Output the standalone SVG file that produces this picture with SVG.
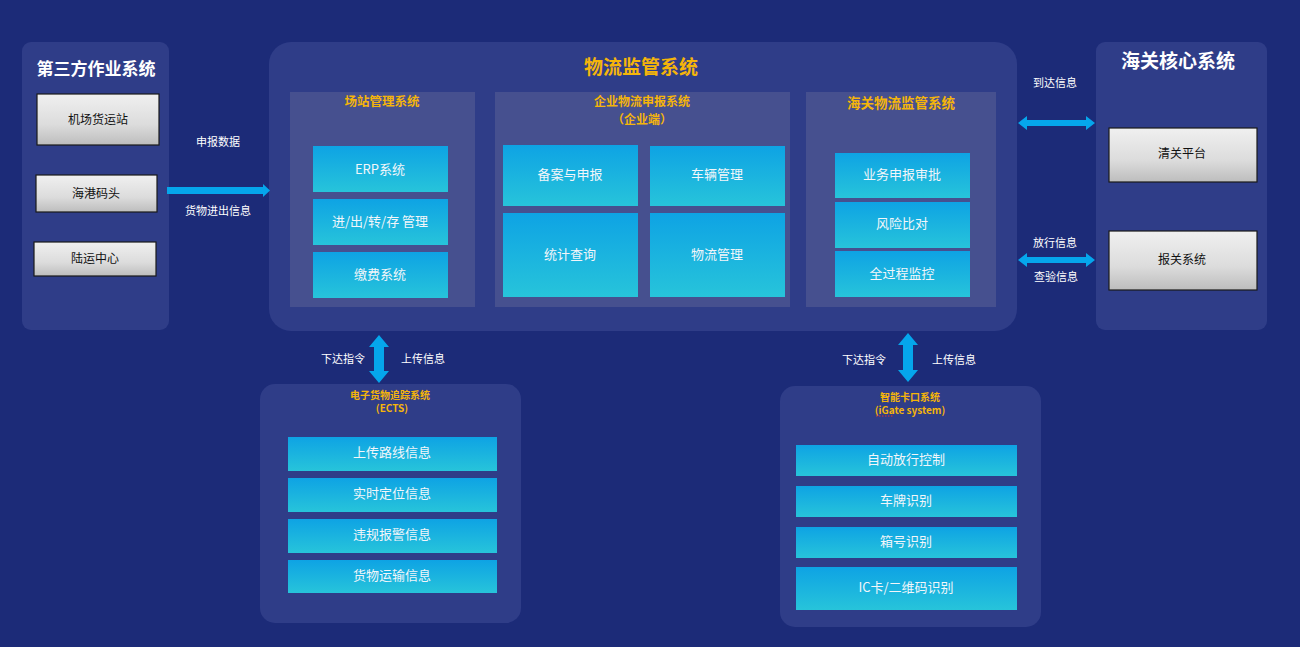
<svg xmlns="http://www.w3.org/2000/svg" width="1300" height="647" viewBox="0 0 1300 647">
<defs>
<linearGradient id="blue" x1="0" y1="0" x2="0" y2="1">
<stop offset="0" stop-color="#0ea3e4"/>
<stop offset="1" stop-color="#27c4da"/>
</linearGradient>
<linearGradient id="gray" x1="0" y1="0" x2="0" y2="1">
<stop offset="0" stop-color="#f0f0f0"/>
<stop offset="0.6" stop-color="#dcdcdc"/>
<stop offset="1" stop-color="#bdbdbd"/>
</linearGradient>
</defs>
<style>
text{font-family:"Microsoft YaHei","Noto Sans CJK SC","Noto Sans",sans-serif;text-anchor:middle;dominant-baseline:central}
.panel{fill:#2f3d88}
.sub{fill:#46508f}
.bx{fill:url(#blue)}
.gb{fill:url(#gray);stroke:#1a1a1a;stroke-width:1.2}
.bt{fill:#f2f6fa;font-size:13px}
.gt{fill:#111;font-size:12px}
.wt{fill:#ffffff;font-weight:bold}
.ot{fill:#f5b50a;font-weight:bold}
.lt{fill:#ffffff;font-size:11px}
.arr{fill:#05a6ec}
</style>
<rect width="1300" height="647" fill="#1c2b78"/>

<g id="third-party">
<rect class="panel" x="22" y="42" width="147" height="288" rx="9"/>
<text class="wt" x="96" y="67" font-size="17">第三方作业系统</text>
<g id="airport"><rect class="gb" x="37" y="94" width="122" height="51"/><text class="gt" x="98" y="118">机场货运站</text></g>
<g id="seaport"><rect class="gb" x="36" y="175" width="121" height="37"/><text class="gt" x="96" y="192">海港码头</text></g>
<g id="land"><rect class="gb" x="34" y="242" width="122" height="34"/><text class="gt" x="95" y="257">陆运中心</text></g>
</g>

<g id="logistics">
<rect class="panel" x="269" y="42" width="748" height="289" rx="22"/>
<text class="ot" x="641" y="65" font-size="19">物流监管系统</text>
<g id="yard">
<rect class="sub" x="290" y="92" width="185" height="215"/>
<text class="ot" x="382" y="100" font-size="12.5">场站管理系统</text>
<g id="erp"><rect class="bx" x="313" y="146" width="135" height="46"/><text class="bt" x="380" y="168">ERP系统</text></g>
<g id="inout"><rect class="bx" x="313" y="199" width="135" height="46"/><text class="bt" x="380" y="220">进/出/转/存 管理</text></g>
<g id="fee"><rect class="bx" x="313" y="252" width="135" height="46"/><text class="bt" x="380" y="273">缴费系统</text></g>
</g>
<g id="enterprise">
<rect class="sub" x="495" y="92" width="295" height="215"/>
<text class="ot" x="642" y="100" font-size="12">企业物流申报系统</text>
<text class="ot" x="642" y="118" font-size="12">（企业端）</text>
<g id="record"><rect class="bx" x="503" y="145" width="135" height="61"/><text class="bt" x="570" y="173">备案与申报</text></g>
<g id="vehicle"><rect class="bx" x="650" y="146" width="135" height="60"/><text class="bt" x="717" y="173">车辆管理</text></g>
<g id="stats"><rect class="bx" x="503" y="213" width="135" height="84"/><text class="bt" x="570" y="253">统计查询</text></g>
<g id="logmgmt"><rect class="bx" x="650" y="213" width="135" height="84"/><text class="bt" x="717" y="253">物流管理</text></g>
</g>
<g id="customs-logistics">
<rect class="sub" x="806" y="92" width="190" height="215"/>
<text class="ot" x="901" y="102" font-size="13.5">海关物流监管系统</text>
<g id="approve"><rect class="bx" x="835" y="153" width="135" height="45"/><text class="bt" x="902" y="173">业务申报审批</text></g>
<g id="risk"><rect class="bx" x="835" y="202" width="135" height="46"/><text class="bt" x="902" y="222">风险比对</text></g>
<g id="monitor"><rect class="bx" x="835" y="251" width="135" height="46"/><text class="bt" x="902" y="272">全过程监控</text></g>
</g>
</g>

<g id="customs-core">
<rect class="panel" x="1096" y="42" width="171" height="288" rx="9"/>
<text class="wt" x="1178" y="59" font-size="19">海关核心系统</text>
<g id="clearance"><rect class="gb" x="1109" y="128" width="148" height="54"/><text class="gt" x="1182" y="152" font-size="13">清关平台</text></g>
<g id="declare"><rect class="gb" x="1109" y="231" width="148" height="59"/><text class="gt" x="1182" y="258" font-size="13">报关系统</text></g>
</g>

<g id="ects">
<rect class="panel" x="260" y="384" width="261" height="239" rx="15"/>
<text class="ot" x="390" y="394" font-size="10">电子货物追踪系统</text>
<text class="ot" x="392" y="407" font-size="10">(ECTS)</text>
<g id="route"><rect class="bx" x="288" y="437" width="209" height="34"/><text class="bt" x="392" y="451" font-size="15">上传路线信息</text></g>
<g id="position"><rect class="bx" x="288" y="478" width="209" height="34"/><text class="bt" x="392" y="492" font-size="15">实时定位信息</text></g>
<g id="alarm"><rect class="bx" x="288" y="519" width="209" height="34"/><text class="bt" x="392" y="533" font-size="15">违规报警信息</text></g>
<g id="transport"><rect class="bx" x="288" y="560" width="209" height="33"/><text class="bt" x="392" y="574" font-size="15">货物运输信息</text></g>
</g>

<g id="igate">
<rect class="panel" x="780" y="386" width="261" height="241" rx="15"/>
<text class="ot" x="910" y="396" font-size="10">智能卡口系统</text>
<text class="ot" x="910" y="409" font-size="10">(iGate system)</text>
<path d="M876 416 h18" stroke="#d33" stroke-width="1" stroke-dasharray="1.5 1.5" fill="none"/>
<g id="release"><rect class="bx" x="796" y="445" width="221" height="31"/><text class="bt" x="906" y="458" font-size="15">自动放行控制</text></g>
<g id="plate"><rect class="bx" x="796" y="486" width="221" height="31"/><text class="bt" x="906" y="499" font-size="13">车牌识别</text></g>
<g id="container"><rect class="bx" x="796" y="527" width="221" height="31"/><text class="bt" x="906" y="540" font-size="15">箱号识别</text></g>
<g id="iccard"><rect class="bx" x="796" y="567" width="221" height="43"/><text class="bt" x="906" y="586" font-size="15">IC卡/二维码识别</text></g>
</g>

<g id="connectors">
<polygon class="arr" points="167,187 263,187 263,184 270,190.5 263,197 263,194 167,194"/>
<text class="lt" x="218" y="141">申报数据</text>
<text class="lt" x="218" y="210">货物进出信息</text>

<polygon class="arr" points="1018,123 1027,116 1027,120 1086,120 1086,116 1095,123 1086,130 1086,126 1027,126 1027,130"/>
<text class="lt" x="1055" y="82">到达信息</text>
<polygon class="arr" points="1018,260 1027,253 1027,257 1086,257 1086,253 1095,260 1086,267 1086,263 1027,263 1027,267"/>
<text class="lt" x="1055" y="242">放行信息</text>
<text class="lt" x="1056" y="276">查验信息</text>

<polygon class="arr" points="379,335 389,347 384,347 384,371 389,371 379,383 369,371 374,371 374,347 369,347"/>
<text class="lt" x="343" y="358">下达指令</text>
<text class="lt" x="423" y="358">上传信息</text>
<polygon class="arr" points="908,333 918,345 913,345 913,370 918,370 908,382 898,370 903,370 903,345 898,345"/>
<text class="lt" x="864" y="359">下达指令</text>
<text class="lt" x="954" y="359">上传信息</text>
</g>
</svg>
